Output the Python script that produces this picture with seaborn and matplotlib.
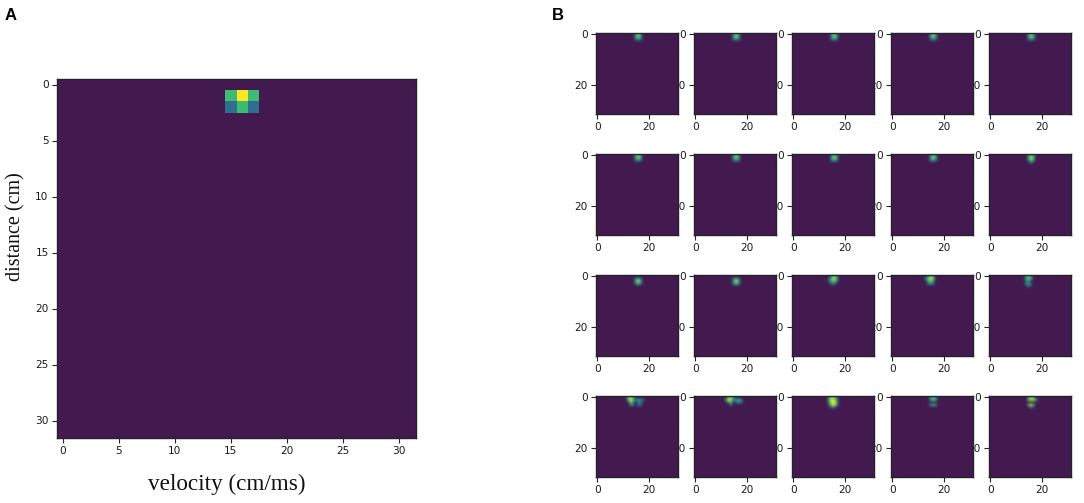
import numpy as np
import seaborn as sns
import matplotlib.pyplot as plt
from matplotlib.colors import LinearSegmentedColormap

sns.set_style("ticks")
plt.rcParams['font.family'] = ['DejaVu Sans']

# values: (row, col, value), everything else is 0
main_cells = [(1, 15, 0.68), (1, 16, 1.0), (1, 17, 0.68),
              (2, 15, 0.33), (2, 16, 0.68), (2, 17, 0.33)]
main_ticks = [0, 5, 10, 15, 20, 25, 30]
small_ticks = [0, 20]
grid_size = 32

spot_a = [(0, 15, 0.45), (0, 16, 0.75), (0, 17, 0.45),
          (1, 15, 0.55), (1, 16, 0.85), (1, 17, 0.55),
          (2, 15, 0.3), (2, 16, 0.45), (2, 17, 0.3)]
spot_b = [(0, 15, 0.35), (0, 16, 0.65), (0, 17, 0.4),
          (1, 15, 0.55), (1, 16, 0.9), (1, 17, 0.6),
          (2, 15, 0.35), (2, 16, 0.55), (2, 17, 0.35)]

row1_cells = [spot_a, spot_a, spot_a, spot_a, spot_a]
row2_cells = [
    spot_a,
    spot_a,
    spot_b,
    spot_b,
    [(0, 15, 0.4), (0, 16, 0.65), (0, 17, 0.4), (1, 15, 0.6), (1, 16, 0.95), (1, 17, 0.6),
     (2, 15, 0.4), (2, 16, 0.8), (2, 17, 0.4), (3, 16, 0.3)],
]
row3_cells = [
    [(1, 15, 0.4), (1, 16, 0.6), (1, 17, 0.35), (2, 15, 0.6), (2, 16, 0.95), (2, 17, 0.55),
     (3, 15, 0.35), (3, 16, 0.6), (3, 17, 0.3)],
    [(1, 15, 0.4), (1, 16, 0.6), (1, 17, 0.35), (2, 15, 0.6), (2, 16, 0.95), (2, 17, 0.6),
     (3, 15, 0.4), (3, 16, 0.65), (3, 17, 0.35)],
    [(0, 15, 0.45), (0, 16, 0.75), (0, 17, 0.45), (1, 14, 0.35), (1, 15, 0.75), (1, 16, 0.95), (1, 17, 0.6),
     (2, 14, 0.3), (2, 15, 0.55), (2, 16, 0.75), (2, 17, 0.35), (3, 15, 0.35), (3, 16, 0.35)],
    [(0, 14, 0.4), (0, 15, 0.7), (0, 16, 0.6), (1, 13, 0.4), (1, 14, 0.8), (1, 15, 0.95), (1, 16, 0.8),
     (2, 14, 0.55), (2, 15, 0.75), (2, 16, 0.45), (3, 14, 0.3), (3, 15, 0.45), (3, 16, 0.3)],
    [(0, 14, 0.45), (0, 15, 0.65), (0, 16, 0.45), (1, 14, 0.6), (1, 15, 0.8), (1, 16, 0.55),
     (2, 14, 0.3), (2, 15, 0.35), (3, 14, 0.45), (3, 15, 0.6), (3, 16, 0.25), (4, 15, 0.35)],
]
row4_cells = [
    [(0, 12, 0.55), (0, 13, 0.8), (0, 14, 0.55), (1, 12, 0.65), (1, 13, 1.0), (1, 14, 0.7),
     (1, 15, 0.45), (1, 16, 0.55), (1, 17, 0.5), (1, 18, 0.3),
     (2, 13, 0.8), (2, 14, 0.45), (2, 16, 0.4), (2, 17, 0.35),
     (3, 13, 0.35), (3, 14, 0.4), (3, 16, 0.35), (3, 17, 0.3)],
    [(0, 13, 0.6), (0, 14, 0.75), (0, 15, 0.35), (1, 12, 0.6), (1, 13, 1.0), (1, 14, 0.85),
     (1, 15, 0.45), (1, 16, 0.55), (1, 17, 0.6), (1, 18, 0.35),
     (2, 13, 0.5), (2, 14, 0.7), (2, 16, 0.35), (2, 17, 0.45), (2, 18, 0.35), (3, 14, 0.35)],
    [(0, 14, 0.55), (0, 15, 0.8), (0, 16, 0.7), (0, 17, 0.3), (1, 14, 0.7), (1, 15, 1.0), (1, 16, 0.9), (1, 17, 0.55),
     (2, 14, 0.55), (2, 15, 0.9), (2, 16, 1.0), (2, 17, 0.6),
     (3, 14, 0.3), (3, 15, 0.85), (3, 16, 0.95), (3, 17, 0.55), (4, 15, 0.3), (4, 16, 0.3)],
    [(0, 15, 0.45), (0, 16, 0.6), (0, 17, 0.45), (1, 15, 0.6), (1, 16, 0.75), (1, 17, 0.6),
     (3, 15, 0.5), (3, 16, 0.65), (3, 17, 0.5)],
    [(0, 15, 0.55), (0, 16, 0.7), (0, 17, 0.6), (1, 15, 0.8), (1, 16, 0.9), (1, 17, 0.85), (1, 18, 0.45),
     (3, 15, 0.7), (3, 16, 0.9), (3, 17, 0.6), (4, 16, 0.35)],
]

# viridis, with the floor a little lighter like the scanned figure
floor_color = "#431a50"
cmap = LinearSegmentedColormap.from_list(
    "soft_viridis", [floor_color, "#3b4a8c", "#2f6f8e", "#21918c", "#35b779", "#90d743", "#fde725"])


def to_grid(cells):
    grid = np.zeros((grid_size, grid_size))
    for row, col, value in cells:
        grid[row, col] = value
    return grid


def style_spines(ax):
    for spine in ax.spines.values():
        spine.set_visible(True)
        spine.set_linewidth(1.0)
        spine.set_color("#26222b")


fig = plt.figure(figsize=(10.84, 5.03), dpi=100)
W, H = 1084.0, 503.0

# panel A
ax_a = fig.add_axes([57 / W, 1 - 438 / H, 359 / W, 359 / H])
sns.heatmap(to_grid(main_cells), ax=ax_a, cmap=cmap, vmin=0, vmax=1, cbar=False, square=False)
ax_a.set_xticks(np.array(main_ticks) + 0.5)
ax_a.set_xticklabels(main_ticks, rotation=0, fontsize=7.6)
ax_a.set_yticks(np.array(main_ticks) + 0.5)
ax_a.set_yticklabels(main_ticks, rotation=0, fontsize=7.6)
ax_a.tick_params(length=3.5, width=0.8, pad=2.5, color="#26222b", labelcolor="#1a1a1a")
style_spines(ax_a)
fig.text(226.5 / W, 1 - 484 / H, "velocity (cm/ms)", family="Liberation Serif", fontsize=16.7,
         ha="center", va="center", color="#111111")
fig.text(16 / W, 1 - 227 / H, "distance (cm)", family="Liberation Serif", fontsize=14.5,
         rotation=90, ha="center", va="center", color="#111111")

# panel B
col_lefts = [596, 694, 792, 891, 989]
row_tops = [33, 154, 275, 396]
panel_rows = [row1_cells, row2_cells, row3_cells, row4_cells]
for r, cells_row in enumerate(panel_rows):
    for c, cells in enumerate(cells_row):
        ax = fig.add_axes([col_lefts[c] / W, 1 - (row_tops[r] + 81) / H, 82 / W, 81 / H])
        ax.set_facecolor(floor_color)
        ax.imshow(to_grid(cells), cmap=cmap, vmin=0, vmax=1, interpolation="bicubic", aspect="auto")
        ax.set_xticks(small_ticks)
        ax.set_yticks(small_ticks)
        ax.set_xlim(-0.5, grid_size - 0.5)
        ax.set_ylim(grid_size - 0.5, -0.5)
        ax.tick_params(length=3.5, width=0.8, pad=2.5, labelsize=7.6, color="#26222b", labelcolor="#1a1a1a")
        style_spines(ax)
        # left neighbours sit on top and cut the "20" labels, as in the original
        ax.set_zorder(10 - c)

fig.text(5 / W, 1 - 16 / H, "A", family="Liberation Sans", fontweight="bold", fontsize=12,
         ha="left", va="center", color="black")
fig.text(552 / W, 1 - 16 / H, "B", family="Liberation Sans", fontweight="bold", fontsize=12,
         ha="left", va="center", color="black")

fig.savefig("out.png", dpi=100)
